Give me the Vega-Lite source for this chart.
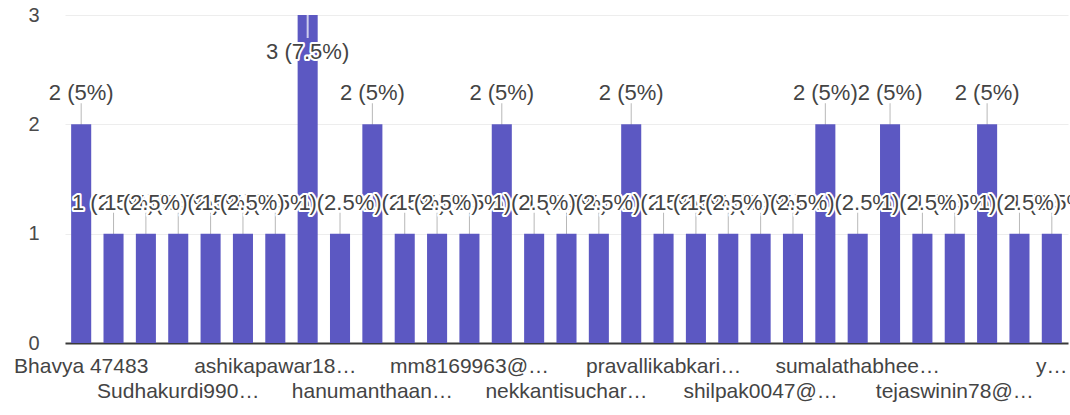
{
  "$schema": "https://vega.github.io/schema/vega-lite/v6.json",
  "width": 1003,
  "height": 328,
  "autosize": {"type": "none"},
  "padding": {"left": 65, "top": 15, "right": 2, "bottom": 72},
  "background": "white",
  "config": {"view": {"stroke": null}, "text": {"font": "Liberation Sans"}},
  "data": {
    "values": [
      {"id": 1, "name": "Bhavya 47483", "count": 2, "label": "2 (5%)"},
      {"id": 2, "name": "", "count": 1, "label": "1 (2.5%)"},
      {"id": 3, "name": "", "count": 1, "label": "1 (2.5%)"},
      {"id": 4, "name": "Sudhakurdi990…", "count": 1, "label": "1 (2.5%)"},
      {"id": 5, "name": "", "count": 1, "label": "1 (2.5%)"},
      {"id": 6, "name": "", "count": 1, "label": "1 (2.5%)"},
      {"id": 7, "name": "ashikapawar18…", "count": 1, "label": "1 (2.5%)"},
      {"id": 8, "name": "", "count": 3, "label": "3 (7.5%)"},
      {"id": 9, "name": "", "count": 1, "label": "1 (2.5%)"},
      {"id": 10, "name": "hanumanthaan…", "count": 2, "label": "2 (5%)"},
      {"id": 11, "name": "", "count": 1, "label": "1 (2.5%)"},
      {"id": 12, "name": "", "count": 1, "label": "1 (2.5%)"},
      {"id": 13, "name": "mm8169963@…", "count": 1, "label": "1 (2.5%)"},
      {"id": 14, "name": "", "count": 2, "label": "2 (5%)"},
      {"id": 15, "name": "", "count": 1, "label": "1 (2.5%)"},
      {"id": 16, "name": "nekkantisuchar…", "count": 1, "label": "1 (2.5%)"},
      {"id": 17, "name": "", "count": 1, "label": "1 (2.5%)"},
      {"id": 18, "name": "", "count": 2, "label": "2 (5%)"},
      {"id": 19, "name": "pravallikabkari…", "count": 1, "label": "1 (2.5%)"},
      {"id": 20, "name": "", "count": 1, "label": "1 (2.5%)"},
      {"id": 21, "name": "", "count": 1, "label": "1 (2.5%)"},
      {"id": 22, "name": "shilpak0047@…", "count": 1, "label": "1 (2.5%)"},
      {"id": 23, "name": "", "count": 1, "label": "1 (2.5%)"},
      {"id": 24, "name": "", "count": 2, "label": "2 (5%)"},
      {"id": 25, "name": "sumalathabhee…", "count": 1, "label": "1 (2.5%)"},
      {"id": 26, "name": "", "count": 2, "label": "2 (5%)"},
      {"id": 27, "name": "", "count": 1, "label": "1 (2.5%)"},
      {"id": 28, "name": "tejaswinin78@…", "count": 1, "label": "1 (2.5%)"},
      {"id": 29, "name": "", "count": 2, "label": "2 (5%)"},
      {"id": 30, "name": "", "count": 1, "label": "1 (2.5%)"},
      {"id": 31, "name": "y…", "count": 1, "label": "1 (2.5%)"}
    ]
  },
  "encoding": {
    "x": {
      "field": "id",
      "type": "ordinal",
      "sort": "ascending",
      "scale": {"paddingInner": 0.38, "paddingOuter": 0.19},
      "axis": {"labels": false, "ticks": false, "grid": false, "domainColor": "#3a3a3a", "domainWidth": 2, "title": null}
    },
    "y": {
      "field": "count",
      "type": "quantitative",
      "scale": {"domain": [0, 3], "nice": false},
      "axis": {"values": [0, 1, 2, 3], "domain": false, "ticks": false, "labelPadding": 26, "labelFontSize": 20, "labelColor": "#4a4a4a", "labelFont": "Liberation Sans", "gridColor": "#ededed", "title": null}
    }
  },
  "layer": [
    {
      "transform": [{"filter": "datum.count < 3"}],
      "mark": {"type": "tick", "orient": "vertical", "size": 42, "thickness": 1, "color": "#9a9a9a"},
      "encoding": {}
    },
    {
      "mark": {"type": "bar", "color": "#5c58c2", "width": {"band": 1}},
      "encoding": {}
    },
    {
      "transform": [{"filter": "datum.count == 3"}],
      "mark": {"type": "tick", "orient": "vertical", "size": 46, "thickness": 2, "color": "white"},
      "encoding": {}
    },
    {
      "transform": [{"filter": "datum.count < 3 && datum.id % 3 == 1"}],
      "mark": {"type": "text", "fontSize": 22, "dy": -24, "baseline": "alphabetic", "fill": "white", "stroke": "white", "strokeWidth": 4, "strokeJoin": "round"},
      "encoding": {"text": {"field": "label"}}
    },
    {
      "transform": [{"filter": "datum.count < 3 && datum.id % 3 == 1"}],
      "mark": {"type": "text", "fontSize": 22, "dy": -24, "baseline": "alphabetic", "fill": "#444444"},
      "encoding": {"text": {"field": "label"}}
    },
    {
      "transform": [{"filter": "datum.count < 3 && datum.id % 3 == 2"}],
      "mark": {"type": "text", "fontSize": 22, "dy": -24, "baseline": "alphabetic", "fill": "white", "stroke": "white", "strokeWidth": 4, "strokeJoin": "round"},
      "encoding": {"text": {"field": "label"}}
    },
    {
      "transform": [{"filter": "datum.count < 3 && datum.id % 3 == 2"}],
      "mark": {"type": "text", "fontSize": 22, "dy": -24, "baseline": "alphabetic", "fill": "#444444"},
      "encoding": {"text": {"field": "label"}}
    },
    {
      "transform": [{"filter": "datum.count < 3 && datum.id % 3 == 0"}],
      "mark": {"type": "text", "fontSize": 22, "dy": -24, "baseline": "alphabetic", "fill": "white", "stroke": "white", "strokeWidth": 4, "strokeJoin": "round"},
      "encoding": {"text": {"field": "label"}}
    },
    {
      "transform": [{"filter": "datum.count < 3 && datum.id % 3 == 0"}],
      "mark": {"type": "text", "fontSize": 22, "dy": -24, "baseline": "alphabetic", "fill": "#444444"},
      "encoding": {"text": {"field": "label"}}
    },
    {
      "transform": [{"filter": "datum.count == 3"}],
      "mark": {"type": "text", "fontSize": 22, "dy": 44, "baseline": "alphabetic", "fill": "white", "stroke": "white", "strokeWidth": 4, "strokeJoin": "round"},
      "encoding": {"text": {"field": "label"}}
    },
    {
      "transform": [{"filter": "datum.count == 3"}],
      "mark": {"type": "text", "fontSize": 22, "dy": 44, "baseline": "alphabetic", "fill": "#444444"},
      "encoding": {"text": {"field": "label"}}
    },
    {
      "transform": [{"filter": "datum.id % 6 == 1"}],
      "mark": {"type": "text", "fontSize": 21, "dy": 30, "baseline": "alphabetic", "fill": "#444444"},
      "encoding": {"y": {"datum": 0}, "text": {"field": "name"}}
    },
    {
      "transform": [{"filter": "datum.id % 6 == 4"}],
      "mark": {"type": "text", "fontSize": 21, "dy": 55, "baseline": "alphabetic", "fill": "#444444"},
      "encoding": {"y": {"datum": 0}, "text": {"field": "name"}}
    }
  ]
}
